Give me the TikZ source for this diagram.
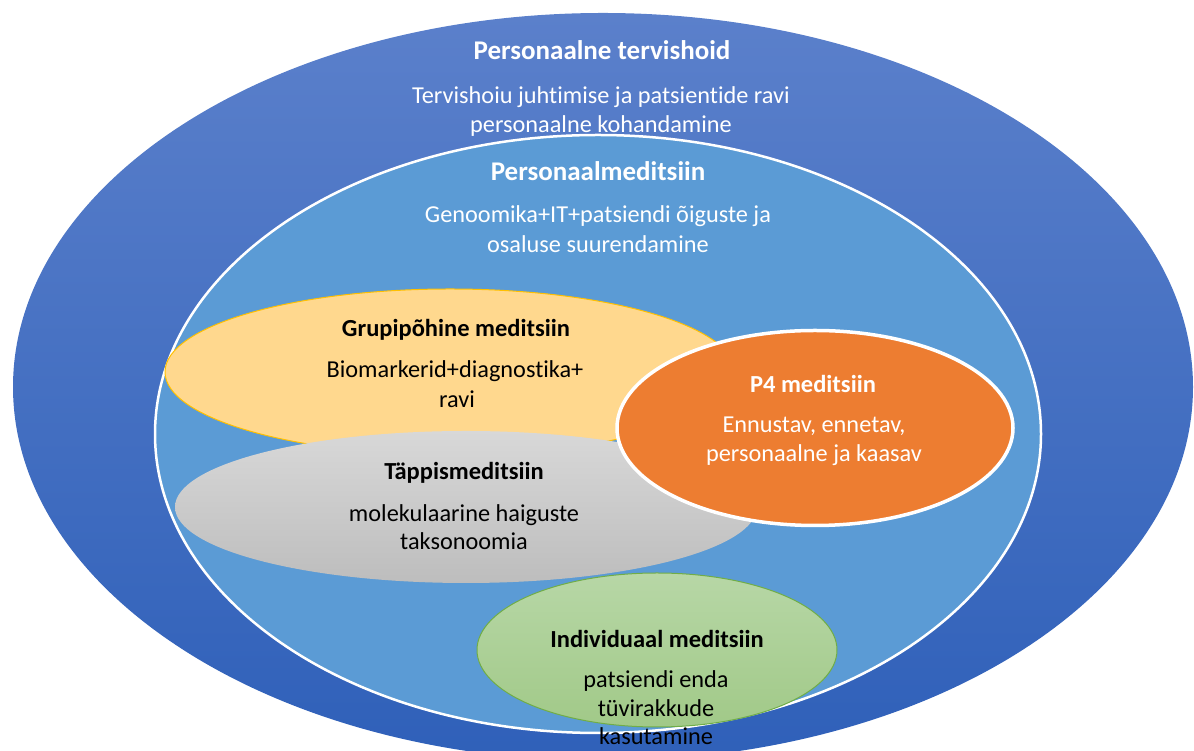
\documentclass[tikz,border=0pt]{standalone}
\usepackage{fontspec}
\setmainfont{Carlito}[Ligatures=NoCommon]
\usetikzlibrary{shapes.geometric}

\definecolor{outerTop}{HTML}{5B80CB}
\definecolor{outerBot}{HTML}{2F60B9}
\definecolor{pmBlue}{HTML}{5B9BD5}
\definecolor{groupFill}{HTML}{FFD88E}
\definecolor{groupLine}{HTML}{FFC000}
\definecolor{precTop}{HTML}{D8D8D8}
\definecolor{precBot}{HTML}{BDBDBD}
\definecolor{pfourFill}{HTML}{ED7D31}
\definecolor{indTop}{HTML}{B7D7A6}
\definecolor{indBot}{HTML}{A1C988}
\definecolor{indLine}{HTML}{70AD47}

\begin{document}
\begin{tikzpicture}[x=1pt,y=1pt,
  blob/.style={ellipse, inner sep=0pt, outer sep=0pt},
  bodytext/.style={anchor=base, inner sep=0pt, font=\fontsize{24.3}{29}\selectfont},
  headtext/.style={anchor=base, inner sep=0pt, font=\fontsize{24.5}{29}\selectfont\bfseries},
  bigtext/.style={anchor=base, inner sep=0pt, font=\fontsize{27}{32}\selectfont\bfseries}]
\useasboundingbox (0,0) rectangle (1194,751);
\clip (0,0) rectangle (1194,751);

% nested ellipses, back to front
\node[blob, minimum width=1180pt, minimum height=748pt,
      top color=outerTop, bottom color=outerBot] (health) at (603,364) {};
\node[blob, minimum width=886pt, minimum height=598pt,
      fill=pmBlue, draw=white, line width=2.5pt] (persmed) at (598,317) {};
\node[blob, minimum width=570pt, minimum height=166pt,
      fill=groupFill, draw=groupLine, line width=1pt] (group) at (450,379) {};
\node[blob, minimum width=582pt, minimum height=152pt,
      top color=precTop, bottom color=precBot] (precision) at (466,244) {};
\node[blob, minimum width=396pt, minimum height=195pt,
      fill=pfourFill, draw=white, line width=3.5pt] (pfour) at (815,323) {};
\node[blob, minimum width=360pt, minimum height=154pt,
      top color=indTop, bottom color=indBot, draw=indLine, line width=1pt] (indiv) at (657,101) {};

% outer ring labels
\node[bigtext, text=white] (hTitle) at (602,691) {Personaalne tervishoid};
\node[bodytext, text=white] (hLineA) at (601,647) {Tervishoiu juhtimise ja patsientide ravi};
\node[bodytext, text=white] (hLineB) at (601,618) {personaalne kohandamine};

% personalised medicine labels
\node[bigtext, text=white] (pmTitle) at (598,570) {Personaalmeditsiin};
\node[bodytext, text=white] (pmLineA) at (598,528) {Genoomika+IT+patsiendi õiguste ja};
\node[bodytext, text=white] (pmLineB) at (598,498) {osaluse suurendamine};

% group-based medicine labels
\node[headtext] (gTitle) at (456,414) {Grupipõhine meditsiin};
\node[bodytext] (gLineA) at (455,373) {Biomarkerid+diagnostika+};
\node[bodytext] (gLineB) at (457,343) {ravi};

% precision medicine labels
\node[headtext] (prTitle) at (464,271) {Täppismeditsiin};
\node[bodytext] (prLineA) at (464,229) {molekulaarine haiguste};
\node[bodytext] (prLineB) at (464,201) {taksonoomia};

% P4 medicine labels
\node[headtext, text=white] (p4Title) at (813,358) {P4 meditsiin};
\node[bodytext, text=white] (p4LineA) at (814,318) {Ennustav, ennetav,};
\node[bodytext, text=white] (p4LineB) at (814,289) {personaalne ja kaasav};

% individual medicine labels
\node[headtext] (iTitle) at (657,103) {Individuaal meditsiin};
\node[bodytext] (iLineA) at (656,63) {patsiendi enda};
\node[bodytext] (iLineB) at (656,34) {tüvirakkude};
\node[bodytext] (iLineC) at (656,6) {kasutamine};
\end{tikzpicture}
\end{document}
